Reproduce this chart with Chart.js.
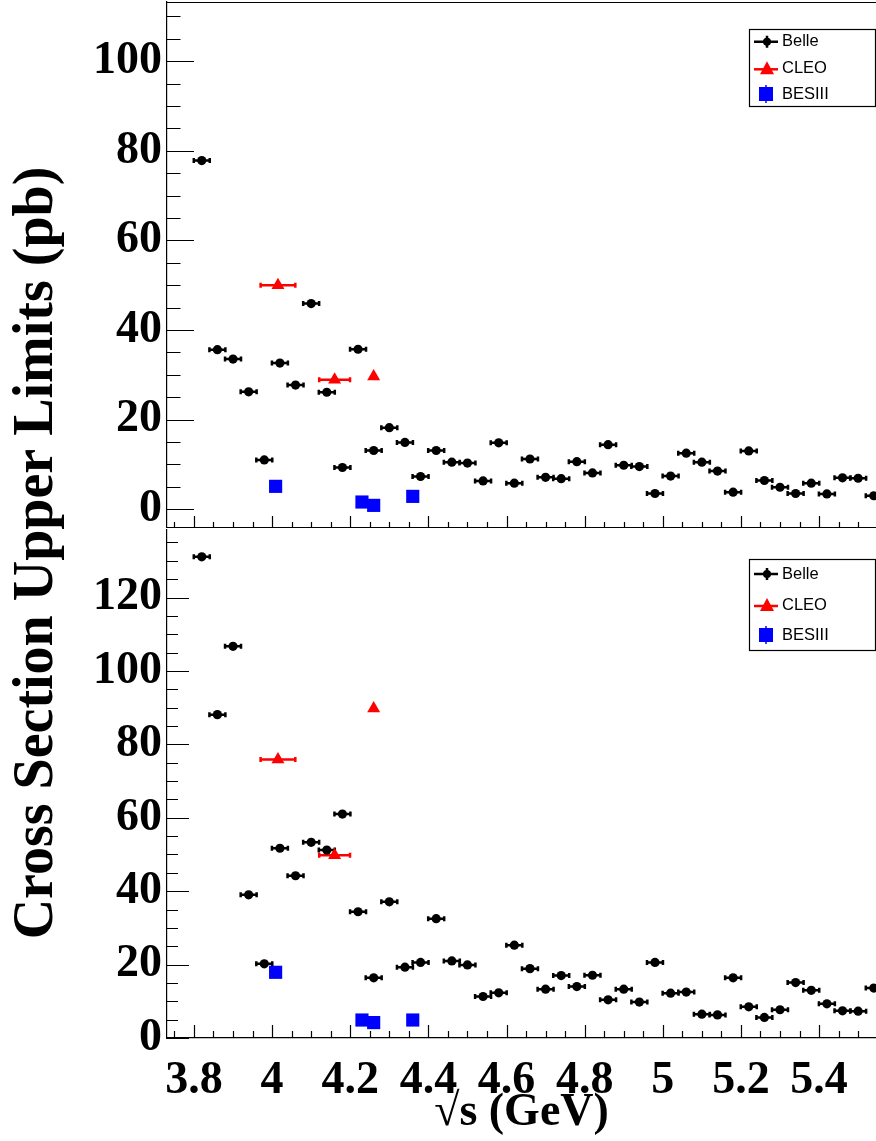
<!DOCTYPE html>
<html lang="en">
<head>
<meta charset="UTF-8">
<title>Cross Section Upper Limits</title>
<script src="https://cdn.jsdelivr.net/npm/chart.js@4.4.0/dist/chart.umd.min.js"></script>
<style>
  html, body { margin: 0; padding: 0; background: #fff; }
  #wrap { position: relative; width: 876px; height: 1141px; overflow: hidden; }
  canvas { position: absolute; left: 0; }
  #topChart { top: 0; }
  #botChart { top: 528px; }
  #ytitle {
    position: absolute; width: 820px; height: 56px; line-height: 56px;
    left: -381px; top: 525px; transform: rotate(-90deg);
    text-align: center; white-space: nowrap;
    font: bold 56px 'Liberation Serif', serif; color: #000;
  }
</style>
</head>
<body>
<div id="wrap">
  <canvas id="topChart" width="876" height="528"></canvas>
  <canvas id="botChart" width="876" height="613"></canvas>
  <div id="ytitle">Cross Section Upper Limits (pb)</div>
</div>
<script>
// sqrt(s) points, GeV
const belleX = [3.82, 3.86, 3.90, 3.94, 3.98, 4.02, 4.06, 4.10, 4.14, 4.18,
                4.22, 4.26, 4.30, 4.34, 4.38, 4.42, 4.46, 4.50, 4.54, 4.58,
                4.62, 4.66, 4.70, 4.74, 4.78, 4.82, 4.86, 4.90, 4.94, 4.98,
                5.02, 5.06, 5.10, 5.14, 5.18, 5.22, 5.26, 5.30, 5.34, 5.38,
                5.42, 5.46, 5.50, 5.54];
const belleXErr = 0.023;
const belleTop = [77.8, 35.6, 33.5, 26.2, 11.0, 32.6, 27.7, 45.9, 26.1, 9.3,
                  35.7, 13.1, 18.2, 14.9, 7.3, 13.1, 10.5, 10.3, 6.3, 14.8,
                  5.8, 11.2, 7.1, 6.8, 10.6, 8.1, 14.4, 9.8, 9.5, 3.5,
                  7.4, 12.5, 10.5, 8.5, 3.8, 13.0, 6.4, 4.9, 3.5, 5.8,
                  3.4, 7.0, 6.9, 3.0];
const belleBot = [131.1, 88.1, 106.7, 39.0, 20.2, 51.7, 44.2, 53.3, 51.2, 61.0,
                  34.4, 16.4, 37.1, 19.3, 20.6, 32.5, 21.0, 19.9, 11.3, 12.3,
                  25.3, 18.9, 13.3, 17.0, 14.0, 17.1, 10.4, 13.3, 9.8, 20.6,
                  12.2, 12.5, 6.5, 6.3, 16.4, 8.5, 5.6, 7.7, 15.1, 13.0,
                  9.3, 7.4, 7.3, 13.6];

const cleoX = [4.015, 4.16, 4.26];
const cleoXErr = [0.047, 0.042, 0];
const cleoTop = [50.0, 28.9, 29.6];
const cleoBot = [75.9, 49.8, 89.8];

const besX = [4.009, 4.23, 4.26, 4.36];
const besTop = [5.1, 1.6, 0.85, 2.86];
const besBot = [17.9, 4.9, 4.2, 4.9];

const xTicks = [3.8, 4, 4.2, 4.4, 4.6, 4.8, 5, 5.2, 5.4];
const yTicksTop = [0, 20, 40, 60, 80, 100];
const yTicksBot = [0, 20, 40, 60, 80, 100, 120];
const legendLabels = ['Belle', 'CLEO', 'BESIII'];

const serif = 'Liberation Serif';
const pts = (xs, ys) => xs.map((x, i) => ({x: x, y: ys[i]}));

// horizontal error bars (upper limits: no vertical errors)
const errBars = {
  id: 'errBars',
  beforeDatasetsDraw(chart) {
    const {ctx, chartArea: a, scales: {x, y}} = chart;
    ctx.save();
    ctx.beginPath();
    ctx.rect(a.left, a.top, a.right - a.left, a.bottom - a.top);
    ctx.clip();
    chart.data.datasets.forEach(ds => {
      if (ds.xErr === undefined) return;
      ctx.strokeStyle = ds.backgroundColor;
      ctx.lineWidth = 2.5;
      ds.data.forEach((d, i) => {
        const e = Array.isArray(ds.xErr) ? ds.xErr[i] : ds.xErr;
        if (!e) return;
        const x0 = x.getPixelForValue(d.x - e), x1 = x.getPixelForValue(d.x + e);
        const py = y.getPixelForValue(d.y);
        ctx.beginPath();
        ctx.moveTo(x0, py); ctx.lineTo(x1, py);
        ctx.moveTo(x0 + 1, py - 2.5); ctx.lineTo(x0 + 1, py + 2.5);
        ctx.moveTo(x1 - 1, py - 2.5); ctx.lineTo(x1 - 1, py + 2.5);
        ctx.stroke();
      });
    });
    ctx.restore();
  }
};

// ticks pointing into the frame, plus the top frame line
const innerTicks = {
  id: 'innerTicks',
  afterDraw(chart, args, o) {
    const {ctx, chartArea: a, scales: {x, y}} = chart;
    const minors = (s, n) => {
      const t = s.ticks.map(k => k.value);
      const step = (t[1] - t[0]) / n, out = [];
      for (let v = t[0]; v >= s.min - 1e-9; v -= step) out.push(v);
      for (let v = t[0] + step; v <= s.max + 1e-9; v += step) out.push(v);
      return out;
    };
    ctx.save();
    ctx.strokeStyle = '#000';
    ctx.lineWidth = 1.2;
    ctx.beginPath();
    minors(x, 4).forEach(v => {
      const px = Math.round(x.getPixelForValue(v)) + 0.5;
      ctx.moveTo(px, a.bottom); ctx.lineTo(px, a.bottom - o.xMinor);
    });
    x.ticks.forEach(t => {
      const px = Math.round(x.getPixelForValue(t.value)) + 0.5;
      ctx.moveTo(px, a.bottom); ctx.lineTo(px, a.bottom - o.xMajor);
    });
    minors(y, 4).forEach(v => {
      const py = Math.round(y.getPixelForValue(v)) + 0.5;
      ctx.moveTo(a.left, py); ctx.lineTo(a.left + o.yMinor, py);
    });
    y.ticks.forEach(t => {
      const py = Math.round(y.getPixelForValue(t.value)) + 0.5;
      ctx.moveTo(a.left, py); ctx.lineTo(a.left + o.yMajor, py);
    });
    if (o.frameTop) {
      ctx.moveTo(a.left, a.top + 0.5); ctx.lineTo(a.right, a.top + 0.5);
    }
    ctx.stroke();
    ctx.restore();
  }
};

// ROOT-style legend box
const boxLegend = {
  id: 'boxLegend',
  afterDraw(chart, args, o) {
    const ctx = chart.ctx;
    ctx.save();
    ctx.fillStyle = '#fff';
    ctx.fillRect(o.x1, o.y1, o.x2 - o.x1, o.y2 - o.y1);
    ctx.strokeStyle = '#000';
    ctx.lineWidth = 1.2;
    ctx.strokeRect(o.x1 + 0.5, o.y1 + 0.5, o.x2 - o.x1 - 1, o.y2 - o.y1 - 1);
    const mx = o.x1 + 18;
    // Belle
    let yy = o.rows[0];
    ctx.strokeStyle = '#000'; ctx.fillStyle = '#000'; ctx.lineWidth = 2.5;
    ctx.beginPath();
    ctx.moveTo(mx - 13, yy); ctx.lineTo(mx + 11, yy);
    ctx.moveTo(mx, yy - 6); ctx.lineTo(mx, yy + 6);
    ctx.stroke();
    ctx.beginPath(); ctx.arc(mx, yy, 4, 0, Math.PI * 2); ctx.fill();
    // CLEO
    yy = o.rows[1];
    ctx.strokeStyle = '#f00'; ctx.fillStyle = '#f00';
    ctx.beginPath(); ctx.moveTo(mx - 13, yy + 1); ctx.lineTo(mx + 11, yy + 1); ctx.stroke();
    ctx.beginPath();
    ctx.moveTo(mx, yy - 7); ctx.lineTo(mx + 7, yy + 6); ctx.lineTo(mx - 7, yy + 6);
    ctx.closePath(); ctx.fill();
    // BESIII
    yy = o.rows[2];
    ctx.strokeStyle = '#00f'; ctx.fillStyle = '#00f'; ctx.lineWidth = 1.5;
    ctx.beginPath(); ctx.moveTo(mx - 1, yy - 9); ctx.lineTo(mx - 1, yy + 9); ctx.stroke();
    ctx.fillRect(mx - 8, yy - 7, 14, 14);
    // labels
    ctx.fillStyle = '#000';
    ctx.font = '16.5px "Liberation Sans", Arial, sans-serif';
    ctx.textBaseline = 'middle';
    ctx.textAlign = 'left';
    legendLabels.forEach((t, i) => ctx.fillText(t, o.x1 + 33, o.rows[i]));
    ctx.restore();
  }
};

function makeChart(id, cfg) {
  return new Chart(document.getElementById(id), {
    type: 'scatter',
    data: {
      datasets: [
        {label: 'BESIII', data: pts(besX, cfg.bes), pointStyle: 'rect', pointRadius: 9.3,
         backgroundColor: '#0000ff', borderWidth: 0},
        {label: 'CLEO', data: pts(cleoX, cfg.cleo), xErr: cleoXErr, pointStyle: 'triangle', pointRadius: 7.5,
         backgroundColor: '#ff0000', borderWidth: 0},
        {label: 'Belle', data: pts(belleX, cfg.belle), xErr: belleXErr, pointStyle: 'circle', pointRadius: 4.6,
         backgroundColor: '#000000', borderWidth: 0}
      ]
    },
    options: {
      responsive: false,
      animation: false,
      events: [],
      layout: {autoPadding: false, padding: {top: 2, left: 0, right: 0, bottom: 0}},
      plugins: {
        legend: {display: false},
        tooltip: {enabled: false},
        innerTicks: cfg.ticks,
        boxLegend: cfg.legend
      },
      scales: {
        x: {
          type: 'linear', min: 3.731, max: 5.5457,
          afterBuildTicks: s => { s.ticks = xTicks.map(v => ({value: v})); },
          afterFit: s => { s.height = cfg.xHeight; s.paddingLeft = 0; s.paddingRight = 0; },
          grid: {display: false, drawTicks: false},
          border: {display: true, color: '#000', width: 1.2},
          ticks: {
            display: cfg.xLabels, color: '#000', padding: 16, maxRotation: 0, autoSkip: false,
            font: {family: serif, size: 46, weight: 'bold'},
            callback: v => String(v)
          },
          title: {
            display: cfg.xLabels, text: '\u221As (GeV)', color: '#000',
            font: {family: serif, size: 46, weight: 'bold'},
            padding: {top: 0, bottom: 0}
          }
        },
        y: {
          type: 'linear', min: cfg.yMin, max: cfg.yMax,
          afterBuildTicks: s => { s.ticks = cfg.yTicks.map(v => ({value: v})); },
          afterFit: s => { s.width = 167; s.paddingTop = 0; s.paddingBottom = 0; },
          grid: {display: false, drawTicks: false},
          border: {display: true, color: '#000', width: 1.2},
          ticks: {
            color: '#000', padding: 5, autoSkip: false,
            font: {family: serif, size: 46, weight: 'bold'},
            callback: v => String(v)
          }
        }
      }
    },
    plugins: [errBars, innerTicks, boxLegend]
  });
}

makeChart('topChart', {
  belle: belleTop, cleo: cleoTop, bes: besTop,
  yMin: -4.2, yMax: 113.2, yTicks: yTicksTop,
  xHeight: 0, xLabels: false,
  ticks: {xMajor: 12, xMinor: 6, yMajor: 27, yMinor: 13.5, frameTop: true},
  legend: {x1: 749, y1: 29, x2: 876, y2: 107, rows: [41.7, 68.3, 94]}
});

makeChart('botChart', {
  belle: belleBot, cleo: cleoBot, bes: besBot,
  yMin: 0, yMax: 138.4, yTicks: yTicksBot,
  xHeight: 103, xLabels: true,
  ticks: {xMajor: 13, xMinor: 7, yMajor: 22, yMinor: 11, frameTop: false},
  legend: {x1: 749, y1: 31, x2: 876, y2: 123, rows: [46, 77, 107]}
});
</script>
</body>
</html>
